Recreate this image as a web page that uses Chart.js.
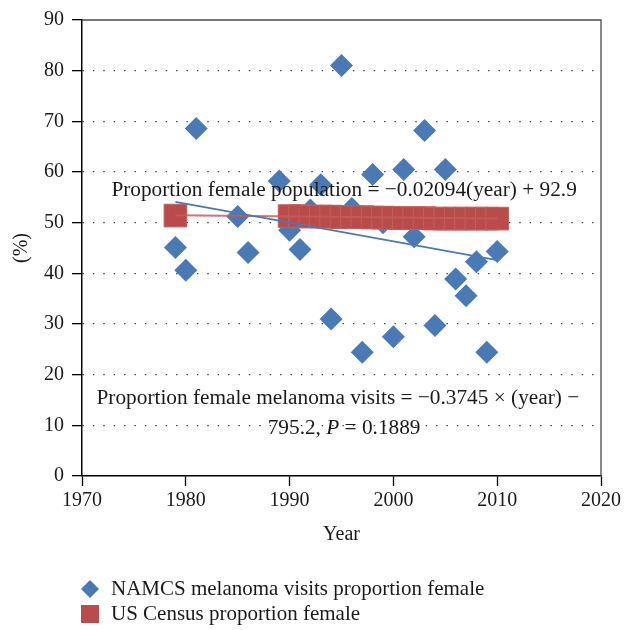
<!DOCTYPE html>
<html><head><meta charset="utf-8">
<script src="https://cdn.jsdelivr.net/npm/chart.js@4/dist/chart.umd.min.js"></script>
<style>html,body{margin:0;padding:0;background:#fff}#wrap{width:633px;height:630px}</style>
</head><body><div id="wrap"><canvas id="c" width="633" height="630"></canvas></div>
<script>
// ---- data ----
const namcsYears = [1979,1980,1981,1985,1986,1989,1990,1991,1992,1993,1994,1995,1996,1997,1998,1999,2000,2001,2002,2003,2004,2005,2006,2007,2008,2009,2010];
const namcsPct   = [45.1,40.6,68.6,51.2,44.1,58.2,48.5,44.7,52.5,57.5,31.0,81.0,52.8,24.4,59.5,50.0,27.5,60.5,47.2,68.2,29.7,60.5,38.9,35.6,42.3,24.4,44.3];
const censusYears = [1979,1990,1991,1992,1993,1994,1995,1996,1997,1998,1999,2000,2001,2002,2003,2004,2005,2006,2007,2008,2009,2010];
const censusPct   = [51.4,51.3,51.3,51.2,51.2,51.2,51.1,51.1,51.1,51.0,51.0,50.9,50.9,50.9,50.9,50.8,50.8,50.8,50.8,50.8,50.8,50.8];
const namcsTrendYears = [1979, 2010];
const namcsTrendPct   = [54.1, 42.6];
const censusTrendYears = [1979, 2010];
const censusTrendPct   = [51.46, 50.81];
const xTicks = [1970,1980,1990,2000,2010,2020];
const yTicks = [0,10,20,30,40,50,60,70,80,90];
const seriesLabels = ['NAMCS melanoma visits proportion female','US Census proportion female'];
const xTitle = 'Year';
const yTitle = '(%)';
const eqPopulation = 'Proportion female population = \u22120.02094(year) + 92.9';
const eqVisitsLine1 = 'Proportion female melanoma visits = \u22120.3745 \u00d7 (year) \u2212';
const eqVisitsLine2 = ['795.2, ', 'P', ' = 0.1889'];

const BLUE = '#4A7AB5';
const RED = '#B94C4A';
const FONT = "'Liberation Serif', 'DejaVu Serif', serif";

const pts = (xs, ys) => xs.map((x, i) => ({x, y: ys[i]}));

const framePlugin = {
  id: 'frame',
  beforeDatasetsDraw(chart) {
    const {ctx, chartArea: a} = chart;
    ctx.save();
    ctx.strokeStyle = '#4a4a4a';
    ctx.lineWidth = 1.3;
    ctx.beginPath();
    ctx.moveTo(a.left, a.top); ctx.lineTo(a.right, a.top); ctx.lineTo(a.right, a.bottom);
    ctx.stroke();
    ctx.restore();
  },
  afterDatasetsDraw(chart) {
    const {ctx, scales: {x, y}} = chart;
    ctx.save();
    ctx.fillStyle = '#1a1a1a';
    ctx.textBaseline = 'middle';
    ctx.textAlign = 'center';
    ctx.font = '21.3px ' + FONT;
    ctx.fillText(eqPopulation, x.getPixelForValue(1995.25), y.getPixelForValue(56.4));
    ctx.fillText(eqVisitsLine1, x.getPixelForValue(1994.65), y.getPixelForValue(15.3));
    // second line with italic P
    const fonts = ['21.3px ' + FONT, 'italic 21.3px ' + FONT, '21.3px ' + FONT];
    let total = 0;
    const widths = eqVisitsLine2.map((t, i) => { ctx.font = fonts[i]; const w = ctx.measureText(t).width; total += w; return w; });
    let cx = x.getPixelForValue(1995.25) - total / 2;
    const cy = y.getPixelForValue(9.4);
    ctx.textAlign = 'left';
    eqVisitsLine2.forEach((t, i) => { ctx.font = fonts[i]; ctx.fillText(t, cx, cy); cx += widths[i]; });
    ctx.restore();
  },
  afterDraw(chart) {
    const {ctx} = chart;
    ctx.save();
    ctx.font = '21px ' + FONT;
    ctx.textBaseline = 'middle';
    ctx.textAlign = 'left';
    const mx = 90, tx = 111, rows = [589, 614];
    ctx.fillStyle = BLUE;
    ctx.beginPath();
    ctx.moveTo(mx, rows[0] - 9); ctx.lineTo(mx + 9, rows[0]); ctx.lineTo(mx, rows[0] + 9); ctx.lineTo(mx - 9, rows[0]);
    ctx.closePath(); ctx.fill();
    ctx.fillStyle = RED;
    ctx.fillRect(mx - 9, rows[1] - 9, 18, 18);
    ctx.fillStyle = '#1a1a1a';
    ctx.fillText(seriesLabels[0], tx, rows[0]);
    ctx.fillText(seriesLabels[1], tx, rows[1]);
    ctx.restore();
  }
};

new Chart(document.getElementById('c'), {
  type: 'scatter',
  data: {
    datasets: [
      { label: 'NAMCS trend', type: 'line', data: pts(namcsTrendYears, namcsTrendPct), borderColor: BLUE, borderWidth: 1.6, pointRadius: 0, fill: false, order: 0 },
      { label: 'Census trend', type: 'line', data: pts(censusTrendYears, censusTrendPct), borderColor: 'rgba(200,90,88,0.85)', borderWidth: 2, pointRadius: 0, fill: false, order: 1 },
      { label: seriesLabels[1], data: pts(censusYears, censusPct), pointStyle: 'rect', pointRadius: 16, pointHoverRadius: 16, backgroundColor: RED, borderColor: '#C35F5D', borderWidth: 1, order: 2 },
      { label: seriesLabels[0], data: pts(namcsYears, namcsPct), pointStyle: 'rectRot', pointRadius: 11.5, pointHoverRadius: 11.5, backgroundColor: BLUE, borderColor: BLUE, borderWidth: 0, order: 3 }
    ]
  },
  options: {
    responsive: false,
    animation: false,
    devicePixelRatio: 1,
    layout: { padding: { top: 13, right: 32, left: 0, bottom: 82 } },
    plugins: { legend: { display: false }, tooltip: { enabled: false } },
    scales: {
      x: {
        type: 'linear', min: 1970, max: 2020,
        afterBuildTicks: s => { s.ticks = xTicks.map(v => ({value: v})); },
        afterFit: s => { s.height = 72; },
        grid: { drawOnChartArea: false, drawTicks: true, tickLength: 10, tickColor: '#000', tickWidth: 1.3 },
        border: { display: true, color: '#000', width: 1.5 },
        ticks: { color: '#1a1a1a', font: { family: FONT, size: 20 }, padding: 3, maxRotation: 0, callback: v => String(v) },
        title: { display: true, text: xTitle, color: '#1a1a1a', font: { family: FONT, size: 20 }, padding: { top: 0, bottom: 1 } }
      },
      y: {
        type: 'linear', min: 0, max: 90,
        afterBuildTicks: s => { s.ticks = yTicks.map(v => ({value: v})); },
        afterFit: s => { s.width = 82; },
        grid: {
          color: c => (c.tick && (c.tick.value === 0 || c.tick.value === 90)) ? 'rgba(0,0,0,0)' : '#3a3a3a',
          lineWidth: 1.3, drawTicks: true, tickLength: 10, tickColor: '#000', tickWidth: 1.3, tickBorderDash: []
        },
        border: { display: true, color: '#000', width: 1.5, dash: [1.4, 9] },
        ticks: { color: '#1a1a1a', font: { family: FONT, size: 20 }, padding: 8, callback: v => String(v) },
        title: { display: true, text: yTitle, color: '#1a1a1a', font: { family: FONT, size: 20 }, padding: { top: 10, bottom: 0 } }
      }
    }
  },
  plugins: [framePlugin]
});
</script>
</body></html>
